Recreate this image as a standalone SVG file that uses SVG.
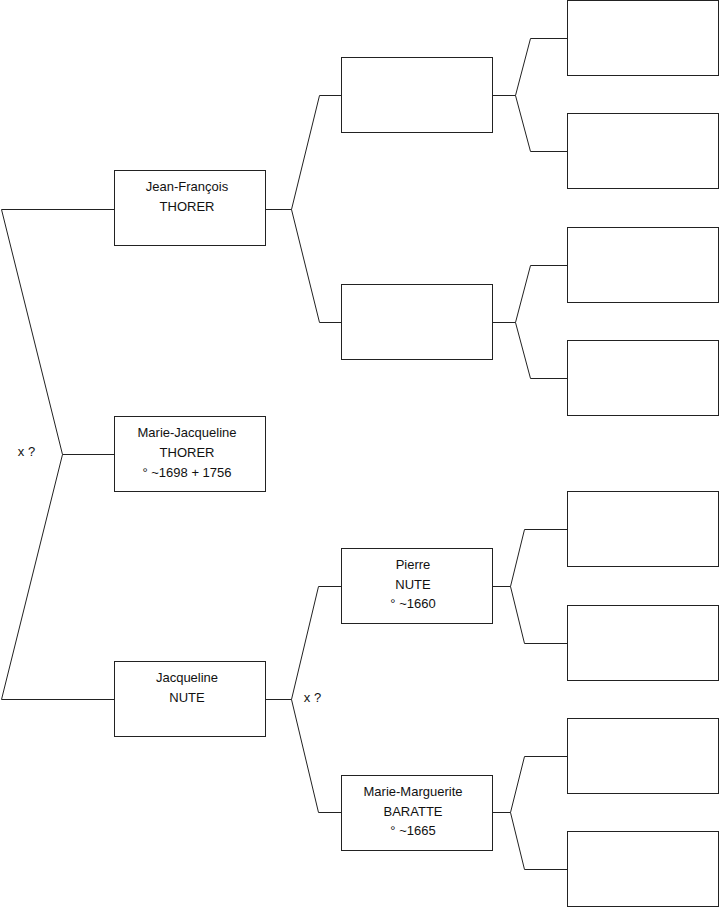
<svg xmlns="http://www.w3.org/2000/svg" width="719" height="908" viewBox="0 0 719 908">
<style>
.b{fill:#fff;stroke:#222;stroke-width:1}
.c{fill:none;stroke:#222;stroke-width:1}
text{font-family:"Liberation Sans",Arial,sans-serif;font-size:13px;fill:#111;text-anchor:middle}
</style>
<rect width="719" height="908" fill="#fff"/>
<g id="connectors">
<path class="c" d="M1.5,209.5H114.5M1.5,209.5L62.5,454.5H114.5M62.5,454.5L1.5,699.5H114.5"/>
<path class="c" d="M265.5,209.5H291.5M319.5,95.5L291.5,209.5L319.5,322.5M319.5,95.5H341.5M319.5,322.5H341.5"/>
<path class="c" d="M265.5,699.5H291.5M318.5,586.5L291.5,699.5L318.5,812.5M318.5,586.5H341.5M318.5,812.5H341.5"/>
<path class="c" d="M492.5,95.5H515.5M530.5,38.5L515.5,95.5L530.5,151.5M530.5,38.5H567.5M530.5,151.5H567.5"/>
<path class="c" d="M492.5,322.5H515.5M530.5,265.5L515.5,322.5L530.5,378.5M530.5,265.5H567.5M530.5,378.5H567.5"/>
<path class="c" d="M492.5,586.5H510.5M524.5,529.5L510.5,586.5L524.5,643.5M524.5,529.5H567.5M524.5,643.5H567.5"/>
<path class="c" d="M492.5,812.5H510.5M524.5,756.5L510.5,812.5L524.5,869.5M524.5,756.5H567.5M524.5,869.5H567.5"/>
<text x="26.5" y="456">x ?</text>
<text x="312.5" y="702">x ?</text>
</g>
<g id="n-jean-francois"><rect class="b" x="114.5" y="170.5" width="151" height="75"/><text x="187" y="191">Jean-François</text><text x="187" y="211">THORER</text></g>
<g id="n-marie-jacqueline"><rect class="b" x="114.5" y="416.5" width="151" height="75"/><text x="187" y="437">Marie-Jacqueline</text><text x="187" y="457">THORER</text><text x="187" y="477">° ~1698 + 1756</text></g>
<g id="n-jacqueline"><rect class="b" x="114.5" y="661.5" width="151" height="75"/><text x="187" y="682">Jacqueline</text><text x="187" y="702">NUTE</text></g>
<g id="n-l2a"><rect class="b" x="341.5" y="57.5" width="151" height="75"/></g>
<g id="n-l2b"><rect class="b" x="341.5" y="284.5" width="151" height="75"/></g>
<g id="n-pierre"><rect class="b" x="341.5" y="548.5" width="151" height="75"/><text x="413" y="569">Pierre</text><text x="413" y="589">NUTE</text><text x="413" y="608">° ~1660</text></g>
<g id="n-marie-marguerite"><rect class="b" x="341.5" y="775.5" width="151" height="75"/><text x="413" y="796">Marie-Marguerite</text><text x="413" y="816">BARATTE</text><text x="413" y="835">° ~1665</text></g>
<g id="n-l3a"><rect class="b" x="567.5" y="0.5" width="151" height="75"/></g>
<g id="n-l3b"><rect class="b" x="567.5" y="113.5" width="151" height="75"/></g>
<g id="n-l3c"><rect class="b" x="567.5" y="227.5" width="151" height="75"/></g>
<g id="n-l3d"><rect class="b" x="567.5" y="340.5" width="151" height="75"/></g>
<g id="n-l3e"><rect class="b" x="567.5" y="491.5" width="151" height="75"/></g>
<g id="n-l3f"><rect class="b" x="567.5" y="605.5" width="151" height="75"/></g>
<g id="n-l3g"><rect class="b" x="567.5" y="718.5" width="151" height="75"/></g>
<g id="n-l3h"><rect class="b" x="567.5" y="831.5" width="151" height="75"/></g>
</svg>
